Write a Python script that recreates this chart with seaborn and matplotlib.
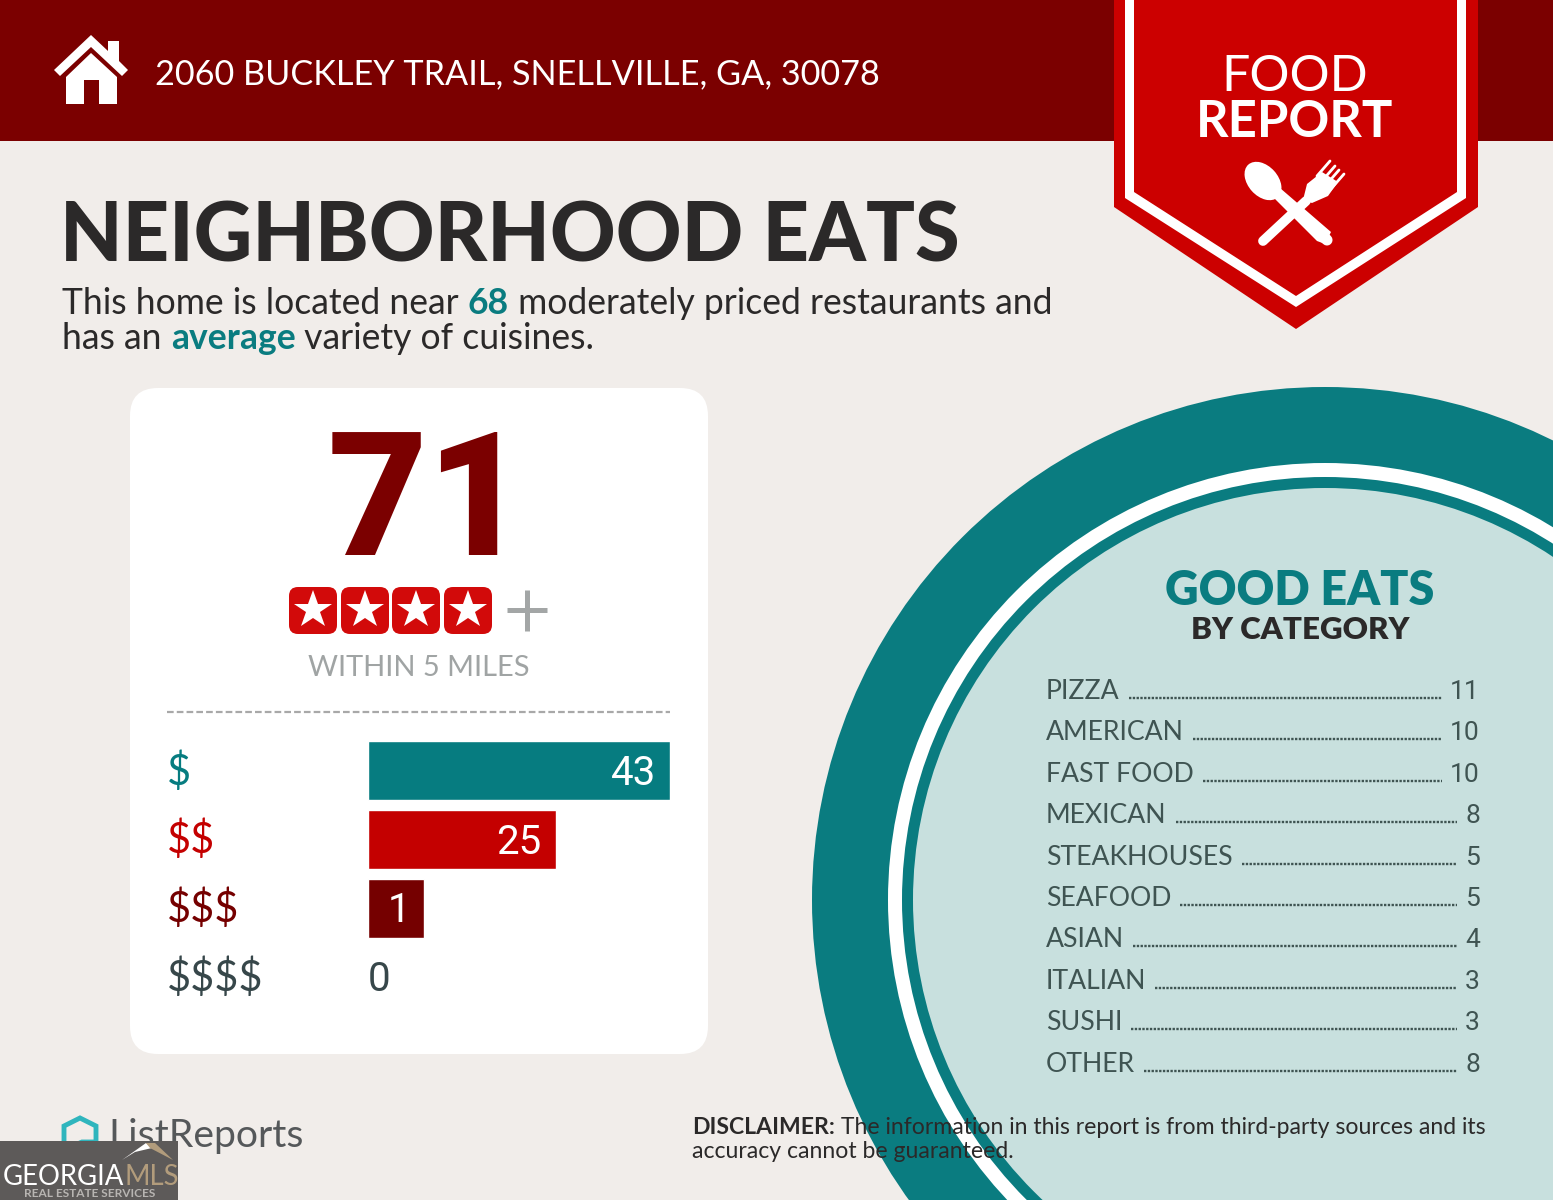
import matplotlib
matplotlib.use("Agg")
import matplotlib.pyplot as plt
import pandas as pd
import seaborn as sns
from matplotlib.patches import Circle, Ellipse, FancyBboxPatch, Polygon, Rectangle
from matplotlib.transforms import ScaledTranslation

# values
address = "2060 BUCKLEY TRAIL, SNELLVILLE, GA, 30078"
total_restaurants = "71"
nearby_restaurants = "68"
variety = "average"
price_tiers = ["$", "$$", "$$$", "$$$$"]
price_counts = [43, 25, 1, 0]
# the report pads short bars so their label fits, so drawn length differs from the count
bar_lengths = [43, 26.7, 8, 0]
tier_colors = ["#067c80", "#c40000", "#750000", "#37474a"]
categories = ["PIZZA", "AMERICAN", "FAST FOOD", "MEXICAN", "STEAKHOUSES",
              "SEAFOOD", "ASIAN", "ITALIAN", "SUSHI", "OTHER"]
category_counts = [11, 10, 10, 8, 5, 5, 4, 3, 3, 8]

BG = "#f1edea"
DARK_RED = "#7b0000"
RED = "#cc0000"
TEAL = "#0a7c80"
PALE = "#c8e0de"
SLATE = "#3f5452"
INK = "#2b2929"

sns.set_theme(style="white")
plt.rcParams["font.family"] = ["Lato", "DejaVu Sans"]
plt.rcParams["text.parse_math"] = False

fig = plt.figure(figsize=(15.53, 12), dpi=100, facecolor=BG)
bg = fig.add_axes([0, 0, 1, 1])
bg.set_xlim(0, 1553)
bg.set_ylim(1200, 0)
bg.axis("off")
renderer = fig.canvas.get_renderer()


def put_runs(x, y, runs, size, zorder=10):
    # several styled pieces on one baseline, one after the other
    for text, color, weight in runs:
        t = bg.text(x, y, text, color=color, fontsize=size, fontweight=weight, va="baseline", zorder=zorder)
        x = t.get_window_extent(renderer).x1


# header
bg.add_patch(Rectangle((0, 0), 1553, 141, color=DARK_RED, lw=0))
bg.add_patch(Polygon([(54, 70), (91, 35), (108, 51), (108, 41), (119, 41), (119, 61), (128, 70),
                      (122, 76), (91, 47), (60, 76)], color="white", lw=0))
bg.add_patch(Polygon([(66, 77), (91, 53), (117, 77), (117, 104), (99, 104), (99, 80), (84, 80),
                      (84, 104), (66, 104)], color="white", lw=0))
bg.text(155, 84, address, color="white", fontsize=24.7, va="baseline")

# banner
bg.add_patch(Polygon([(1114, 0), (1478, 0), (1478, 207), (1296, 329), (1114, 207)], color=RED, lw=0, zorder=3))
bg.add_patch(Polygon([(1125, 0), (1466, 0), (1466, 198), (1296, 307), (1125, 198)], color="white", lw=0, zorder=3))
bg.add_patch(Polygon([(1134, 0), (1457, 0), (1457, 192), (1296, 296), (1134, 192)], color=RED, lw=0, zorder=3))
bg.text(1295, 91, "FOOD", color="white", fontsize=36, ha="center", va="baseline", zorder=4)
bg.text(1295, 137, "REPORT", color="white", fontsize=36.5, fontweight="bold", ha="center", va="baseline", zorder=4)
# fork and spoon
bg.plot([1263, 1306], [241, 201], color="white", lw=7, solid_capstyle="round", zorder=4)
bg.add_patch(Polygon([(1303, 200), (1307, 184), (1322, 172), (1338, 182), (1328, 196), (1312, 203)],
                     color="white", lw=0, zorder=4))
for x0, y0, x1, y1 in [(1317, 176, 1330, 161), (1322, 181, 1335, 166), (1326, 185, 1339, 170), (1330, 190, 1344, 174)]:
    bg.plot([x0, x1], [y0, y1], color="white", lw=2, zorder=4)
bg.add_patch(Polygon([(1272, 196), (1280, 188), (1331, 232), (1325, 244), (1317, 241)], color="white", lw=0, zorder=4))
bg.plot([1324, 1327], [237, 240], color="white", lw=8, solid_capstyle="round", zorder=4)
bg.add_patch(Ellipse((1263, 181), 44, 30, angle=48, color="white", lw=0, zorder=4))

# heading
bg.text(60, 261, "NEIGHBORHOOD EATS", color=INK, fontsize=58.4, fontweight="black", va="baseline")
put_runs(62, 314, [("This home is located near ", INK, "normal"), (nearby_restaurants, TEAL, "bold"),
                   (" moderately priced restaurants and", INK, "normal")], 25.6)
put_runs(62, 349, [("has an ", INK, "normal"), (variety, TEAL, "bold"),
                   (" variety of cuisines.", INK, "normal")], 25.6)

# card
bg.add_patch(FancyBboxPatch((130, 388), 578, 666, boxstyle="round,pad=0,rounding_size=28", color="white", lw=0))
bg.text(427, 555, total_restaurants, color=DARK_RED, fontsize=124, fontweight="black", family="Roboto",
        ha="center", va="baseline")
for x in [289, 341, 392, 444]:
    bg.add_patch(FancyBboxPatch((x, 587), 48, 47, boxstyle="round,pad=0,rounding_size=9", color="#d20a0a", lw=0))
    bg.plot(x + 24, 610, marker="*", ms=29, color="white", mew=0)
bg.plot([507, 547], [610, 610], color="#a3a6a6", lw=3.6, solid_capstyle="butt")
bg.plot([527, 527], [590, 631], color="#a3a6a6", lw=3.6, solid_capstyle="butt")
bg.text(419, 676, "WITHIN 5 MILES", color="#a0a4a4", fontsize=20.9, ha="center", va="baseline")
bg.plot([167, 670], [712, 712], color="#a8a8a8", lw=1.6, dashes=(3, 1.4))

# price bars
ax = fig.add_axes([368.2 / 1553, 1 - 1011.5 / 1200, 301.8 / 1553, 275 / 1200])
df = pd.DataFrame({"tier": price_tiers, "length": bar_lengths})
sns.barplot(data=df, x="length", y="tier", hue="tier", palette=tier_colors, dodge=False, legend=False,
            width=0.855, saturation=1, orient="h", ax=ax)
ax.set_xlim(0, 43)
ax.set_ylim(3.5, -0.5)
ax.patch.set_alpha(0)
ax.set_xlabel("")
ax.set_ylabel("")
ax.set_xticks([])
ax.tick_params(axis="y", length=0, pad=145, labelsize=30)
lift = ScaledTranslation(0, 0.03, fig.dpi_scale_trans)
for label, color in zip(ax.get_yticklabels(), tier_colors):
    label.set_ha("left")
    label.set_va("center_baseline")
    label.set_color(color)
    label.set_transform(label.get_transform() + lift)
sns.despine(ax=ax, left=True, bottom=True)
for i, (count, length) in enumerate(zip(price_counts, bar_lengths)):
    if count > 0:
        ax.text(length - 2, i - 0.02, str(count), color="white", fontsize=29, family="Roboto",
                ha="right", va="center_baseline")
    else:
        ax.text(0, i - 0.02, str(count), color=tier_colors[i], fontsize=29, family="Roboto",
                ha="left", va="center_baseline")

# plate
bg.add_patch(Circle((1325, 900), 513, color=TEAL, lw=0))
bg.add_patch(Circle((1325, 900), 437, color="white", lw=0))
bg.add_patch(Circle((1325, 900), 423, color=TEAL, lw=0))
bg.add_patch(Circle((1325, 900), 412, color=PALE, lw=0))
bg.text(1300, 605, "GOOD EATS", color=TEAL, fontsize=33.5, fontweight="heavy", ha="center", va="baseline", zorder=5)
bg.text(1300, 639, "BY CATEGORY", color=INK, fontsize=22.5, fontweight="heavy", ha="center", va="baseline", zorder=5)

for i, (name, count) in enumerate(zip(categories, category_counts)):
    y = 699 + i * 41.4
    left = bg.text(1046, y, name, color=SLATE, fontsize=19.2, va="baseline", zorder=5)
    right = bg.text(1480, y, str(count), color=SLATE, fontsize=19, family="Roboto", ha="right",
                    va="baseline", zorder=5)
    x0 = left.get_window_extent(renderer).x1 + 9
    x1 = right.get_window_extent(renderer).x0 - 8
    bg.plot([x0, x1], [y - 1, y - 1], color=SLATE, lw=1.7, dashes=(1.0, 0.6), zorder=5)

# footer
bg.add_patch(Polygon([(64, 1150), (64, 1126), (80, 1118), (96, 1126), (96, 1142), (82, 1142)],
                     fill=False, edgecolor="#2fb5bd", lw=3.5, zorder=5))
bg.text(108, 1147, "ListReports", color="#55585a", fontsize=28.2, va="baseline", zorder=5)
put_runs(692, 1134, [("DISCLAIMER:", INK, "bold"),
                     (" The information in this report is from third-party sources and its", INK, "normal")], 16.6)
put_runs(692, 1158, [("accuracy cannot be guaranteed.", INK, "normal")], 16.6)

bg.add_patch(Rectangle((0, 1141), 178, 59, color="#5d5a59", lw=0, zorder=6))
bg.add_patch(Polygon([(122, 1160), (146, 1143), (152, 1148), (135, 1152)], color="white", lw=0, zorder=7))
bg.add_patch(Polygon([(146, 1143), (155, 1143), (173, 1160), (150, 1148)], color="#b29c7c", lw=0, zorder=7))
put_runs(3, 1185, [("GEORGIA", "white", "normal"), ("MLS", "#b29c7c", "normal")], 19.8, zorder=7)
bg.text(90, 1197, "REAL ESTATE SERVICES", color="#b8b5b2", fontsize=8.6, fontweight="bold", ha="center",
        va="baseline", zorder=7)

fig.savefig("out.png", dpi=100, facecolor=BG)
